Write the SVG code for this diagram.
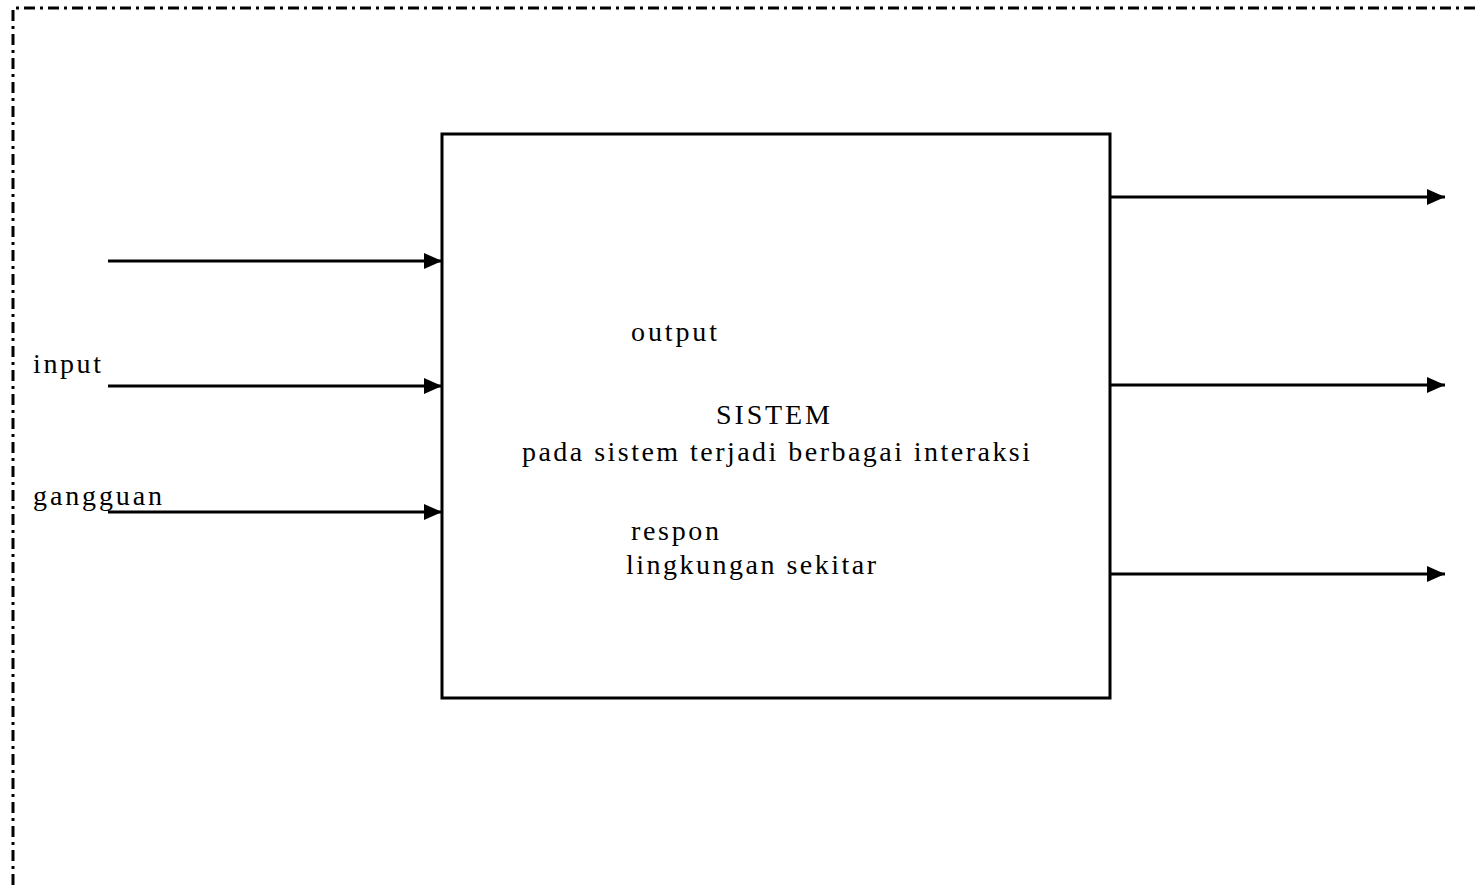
<svg xmlns="http://www.w3.org/2000/svg" width="1480" height="885" viewBox="0 0 1480 885">
<style>
.t{font-family:"Liberation Serif","Times New Roman",serif;font-size:28px;fill:#000}
.c{stroke:#000;stroke-width:3;fill:none}
.frame{stroke:#000;stroke-width:3;fill:none;stroke-dasharray:11 5 3 5}
</style>
<defs>
<marker id="ah" markerUnits="userSpaceOnUse" markerWidth="18" markerHeight="16" refX="18" refY="8" orient="auto">
<path d="M0,0 L18,8 L0,16 Z" fill="#000"/>
</marker>
</defs>
<rect width="1480" height="885" fill="#fff"/>
<g id="frame">
<path class="frame" d="M13,885 L13,8 L1480,8"/>
</g>
<g id="sistem">
<rect x="442" y="134" width="668" height="564" fill="none" stroke="#000" stroke-width="3"/>
<text class="t" x="631" y="341" textLength="86" lengthAdjust="spacing">output</text>
<text class="t" x="716" y="424" textLength="114" lengthAdjust="spacing">SISTEM</text>
<text class="t" x="522" y="461" textLength="508" lengthAdjust="spacing">pada sistem terjadi berbagai interaksi</text>
<text class="t" x="631" y="540" textLength="88" lengthAdjust="spacing">respon</text>
<text class="t" x="626" y="574" textLength="250" lengthAdjust="spacing">lingkungan sekitar</text>
</g>
<g id="input-label">
<text class="t" x="33" y="373" textLength="68" lengthAdjust="spacing">input</text>
</g>
<g id="gangguan-label">
<text class="t" x="33" y="505" textLength="129" lengthAdjust="spacing">gangguan</text>
</g>
<g id="connectors">
<line class="c" x1="108" y1="261" x2="442" y2="261" marker-end="url(#ah)"/>
<line class="c" x1="108" y1="386" x2="442" y2="386" marker-end="url(#ah)"/>
<line class="c" x1="108" y1="512" x2="442" y2="512" marker-end="url(#ah)"/>
<line class="c" x1="1111" y1="197" x2="1445" y2="197" marker-end="url(#ah)"/>
<line class="c" x1="1111" y1="385" x2="1445" y2="385" marker-end="url(#ah)"/>
<line class="c" x1="1111" y1="574" x2="1445" y2="574" marker-end="url(#ah)"/>
</g>
</svg>
